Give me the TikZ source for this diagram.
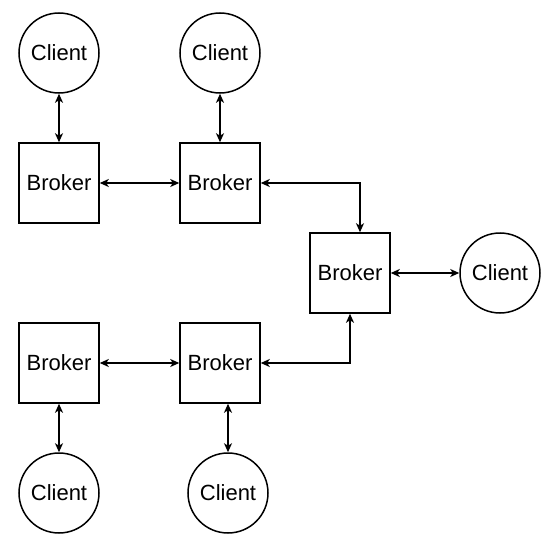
\documentclass[tikz,border=0pt]{standalone}
\usepackage{fontspec}
\setmainfont{Liberation Sans}
\usetikzlibrary{arrows.meta}
\tikzset{
  client/.style={draw, circle, line width=1.5pt, minimum size=80pt, inner sep=0pt, font=\fontsize{22}{26}\selectfont},
  broker/.style={draw, rectangle, line width=1.5pt, minimum size=80pt, inner sep=0pt, font=\fontsize{22}{26}\selectfont},
  link/.style={{Stealth[length=9pt,width=8pt,inset=2.5pt]}-{Stealth[length=9pt,width=8pt,inset=2.5pt]}, line width=1.5pt}
}
\begin{document}
\begin{tikzpicture}[x=1pt,y=-1pt]
\useasboundingbox (0,0) rectangle (550,546);
\node[client] (cA) at (59,53) {Client};
\node[client] (cB) at (220,53) {Client};
\node[broker] (bA) at (59,183) {Broker};
\node[broker] (bB) at (220,183) {Broker};
\node[broker] (bC) at (350,273) {Broker};
\node[client] (cC) at (500,273) {Client};
\node[broker] (bD) at (59,363) {Broker};
\node[broker] (bE) at (220,363) {Broker};
\node[client] (cD) at (59,493) {Client};
\node[client] (cE) at (228,493) {Client};
\draw[link] (cA.south) -- (bA.north);
\draw[link] (cB.south) -- (bB.north);
\draw[link] (bA.east) -- (bB.west);
\draw[link] (bB.east) -| ([xshift=10pt]bC.north);
\draw[link] (bC.east) -- (cC.west);
\draw[link] (bE.east) -| (bC.south);
\draw[link] (bD.east) -- (bE.west);
\draw[link] (bD.south) -- (cD.north);
\draw[link] (cE.north |- bE.south) -- (cE.north);
\end{tikzpicture}
\end{document}
